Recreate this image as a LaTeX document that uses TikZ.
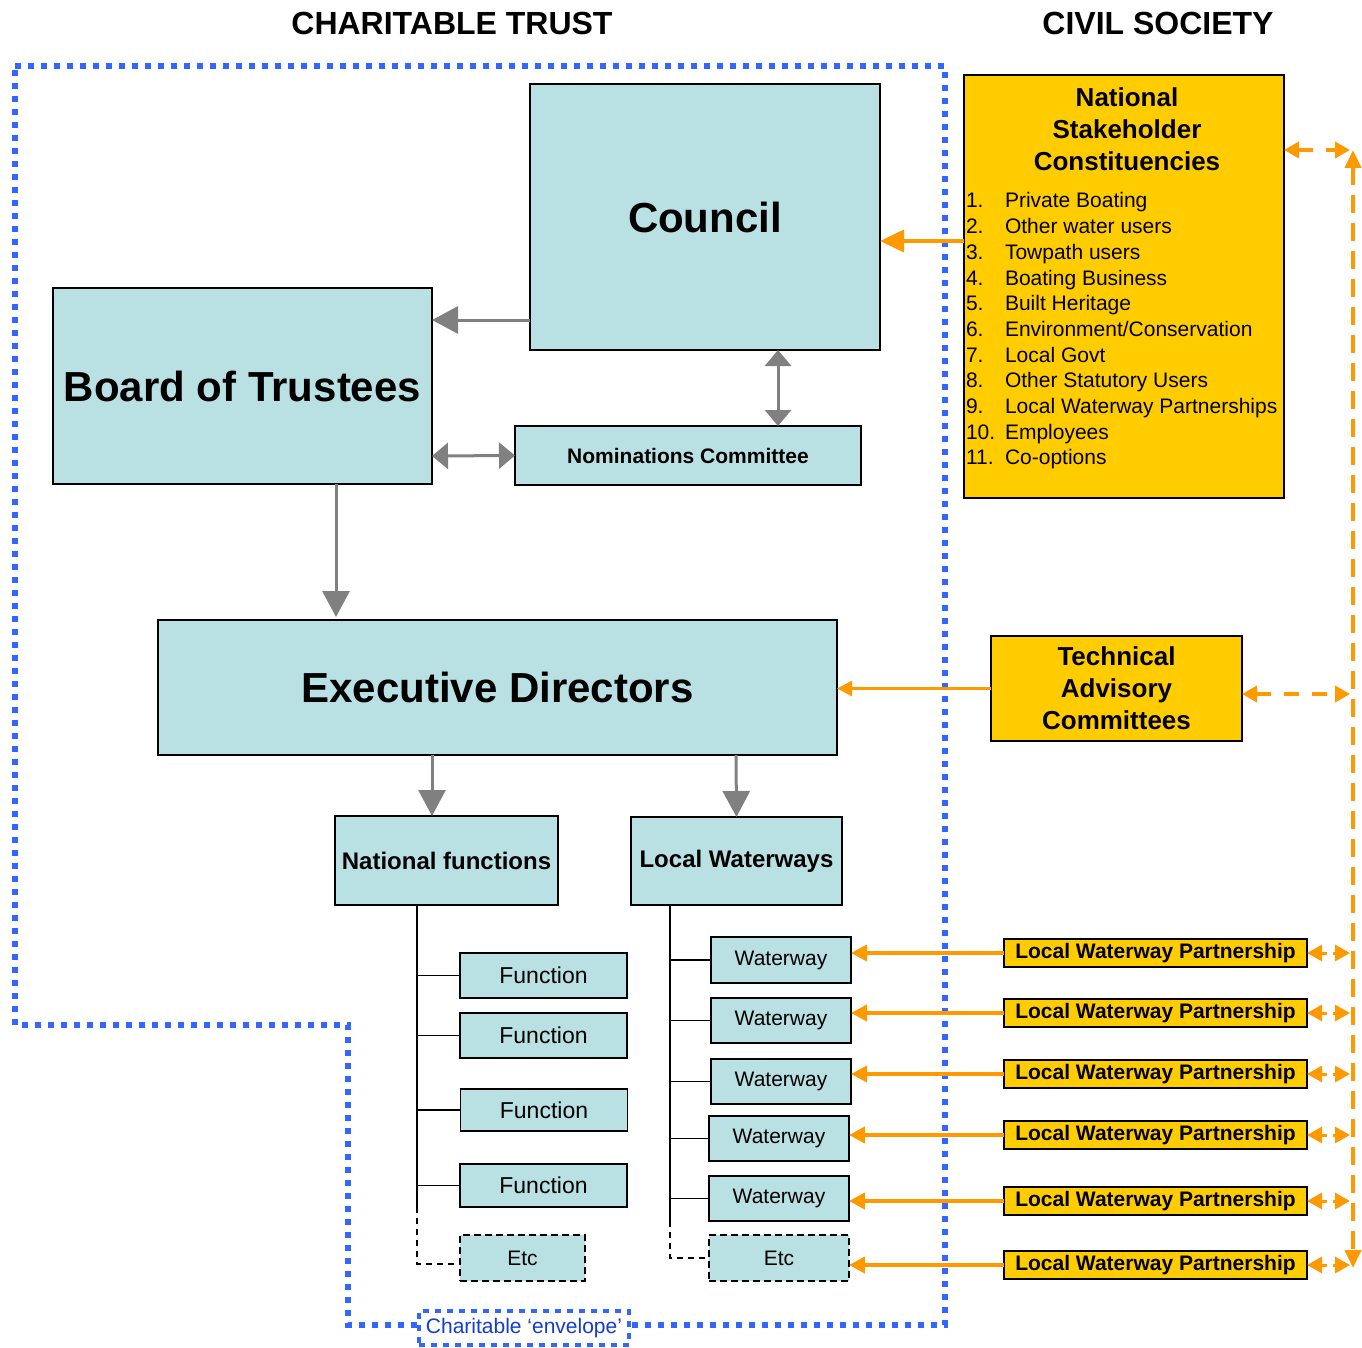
\documentclass[tikz,border=0pt]{standalone}
\usepackage{fontspec}
\setmainfont{Liberation Sans}
\usetikzlibrary{arrows.meta}

\definecolor{boxblue}{RGB}{185,224,227}
\definecolor{civgold}{RGB}{255,204,0}
\definecolor{linkorange}{RGB}{255,153,0}
\definecolor{envblue}{RGB}{51,102,255}
\definecolor{envtext}{RGB}{20,60,210}
\newcommand{\fsz}[2]{\fontsize{#1}{#2}\selectfont}

\begin{document}
\begin{tikzpicture}
[x=1pt,y=-1pt,
 every node/.style={inner sep=0pt,outer sep=0pt},
 org/.style={rectangle,draw=black,line width=1.5pt,fill=boxblue},
 big/.style={org,font=\fsz{42}{50}\bfseries},
 mid/.style={org,font=\fsz{24}{29}\bfseries},
 leaf/.style={org,font=\fsz{23}{28}},
 wwbox/.style={org,minimum width=140pt,font=\fsz{21}{25}},
 etcbox/.style={org,dash pattern=on 7pt off 4pt,minimum height=46pt,font=\fsz{21}{25}},
 civ/.style={rectangle,draw=black,line width=1.5pt,fill=civgold},
 lwpbox/.style={civ,minimum width=303pt,minimum height=28pt,font=\fsz{21}{25}\bfseries},
 tree/.style={draw=black,line width=1.5pt},
 garrow/.style={draw=gray,line width=3pt,-{Triangle[length=26pt,width=27pt]}},
 gboth/.style={draw=gray,line width=3pt,{Triangle[length=16pt,width=26pt]}-{Triangle[length=16pt,width=26pt]}},
 oarrow/.style={draw=linkorange,line width=4pt,-{Triangle[length=16pt,width=16pt]}},
 olink/.style={draw=linkorange,line width=4.5pt,dash pattern=on 15pt off 13pt,shorten >=3pt,
   {Triangle[length=15pt,width=16pt]}-{Triangle[length=15pt,width=16pt]}},
 obus/.style={draw=linkorange,line width=4pt,dash pattern=on 18pt off 10pt},
 env/.style={draw=envblue,line width=6pt,dash pattern=on 6pt off 7pt}]
\useasboundingbox (0,0) rectangle (1362,1348);

% headings
\node[font=\fsz{32}{38}\bfseries] (trust)   at (452,23)  {CHARITABLE TRUST};
\node[font=\fsz{32}{38}\bfseries] (society) at (1158,23) {CIVIL SOCIETY};

% charitable envelope
\draw[env] (15,66) -- (945,66) -- (945,1325) -- (348,1325) -- (348,1025) -- (15,1025) -- cycle;
\node[draw=envblue,line width=4.5pt,dash pattern=on 6pt off 6pt,fill=white,text=envtext,
      minimum width=210pt,minimum height=34pt,font=\fsz{21}{25}] (envlabel) at (524,1328) {Charitable ‘envelope’};

% trust bodies
\node[big,minimum width=350pt,minimum height=266pt] (council) at (705,217)   {Council};
\node[big,minimum width=379pt,minimum height=196pt] (board)   at (242.5,386) {Board of Trustees};
\node[org,minimum width=346pt,minimum height=59pt,font=\fsz{21}{25}\bfseries] (nomcom) at (688,455.5) {Nominations Committee};
\node[big,minimum width=679pt,minimum height=135pt] (exec)    at (497.5,687.5) {Executive Directors};
\node[mid,minimum width=223pt,minimum height=89pt]  (natfn)   at (446.5,860.5) {National functions};
\node[mid,minimum width=211pt,minimum height=88pt]  (localww) at (736.5,861)   {Local Waterways};

\node[leaf,minimum width=167pt,minimum height=45pt] (fn1) at (543.5,975.5)  {Function};
\node[leaf,minimum width=167pt,minimum height=45pt] (fn2) at (543.5,1035.5) {Function};
\node[leaf,minimum width=167pt,minimum height=42pt] (fn3) at (544,1110)     {Function};
\node[leaf,minimum width=167pt,minimum height=43pt] (fn4) at (543.5,1185.5) {Function};
\node[etcbox,minimum width=125pt] (fnetc) at (522.5,1258) {Etc};

\node[wwbox,minimum height=46pt] (ww1) at (781,960)    {Waterway};
\node[wwbox,minimum height=45pt] (ww2) at (781,1020.5) {Waterway};
\node[wwbox,minimum height=45pt] (ww3) at (781,1081.5) {Waterway};
\node[wwbox,minimum height=45pt] (ww4) at (779,1138.5) {Waterway};
\node[wwbox,minimum height=45pt] (ww5) at (779,1198.5) {Waterway};
\node[etcbox,minimum width=140pt] (wwetc) at (779,1258) {Etc};

% civil society
\node[civ,minimum width=320pt,minimum height=423pt] (nsc) at (1124,286.5) {};
\node[align=center,font=\fsz{26}{32}\bfseries] (nsctitle) at (1127,129) {National\\Stakeholder\\Constituencies};
\node[anchor=north west,font=\fsz{21}{25.7}] (nsclist) at (966,190)
  {\begin{tabular}{@{}p{39pt}@{}l@{}}
   1. & Private Boating\\
   2. & Other water users\\
   3. & Towpath users\\
   4. & Boating Business\\
   5. & Built Heritage\\
   6. & Environment/Conservation\\
   7. & Local Govt\\
   8. & Other Statutory Users\\
   9. & Local Waterway Partnerships\\
   10. & Employees\\
   11. & Co-options
   \end{tabular}};
\node[civ,align=center,minimum width=251pt,minimum height=105pt,font=\fsz{26}{32}\bfseries] (tac) at (1116.5,688.5)
  {Technical\\Advisory\\Committees};

\node[lwpbox] (lwp1) at (1155.5,953)  {Local Waterway Partnership};
\node[lwpbox] (lwp2) at (1155.5,1013) {Local Waterway Partnership};
\node[lwpbox] (lwp3) at (1155.5,1074) {Local Waterway Partnership};
\node[lwpbox] (lwp4) at (1155.5,1135) {Local Waterway Partnership};
\node[lwpbox] (lwp5) at (1155.5,1201) {Local Waterway Partnership};
\node[lwpbox] (lwp6) at (1155.5,1265) {Local Waterway Partnership};

% trees under the two divisions
\coordinate (nfspine) at ([xshift=-29.5pt]natfn.south);
\coordinate (lwspine) at ([xshift=-66.5pt]localww.south);
\draw[tree] (nfspine) -- (nfspine |- fn4.south);
\foreach \f in {fn1,fn2,fn3,fn4}
  \draw[tree] (nfspine |- \f.west) -- (\f.west);
\draw[tree,dash pattern=on 6pt off 5pt] (nfspine |- fn4.south) -- ([yshift=-6pt]nfspine |- fnetc.west) -- ([yshift=-6pt]fnetc.west);
\draw[tree] (lwspine) -- (lwspine |- ww5.south);
\foreach \w in {ww1,ww2,ww3,ww4,ww5}
  \draw[tree] (lwspine |- \w.west) -- (\w.west);
\draw[tree,dash pattern=on 6pt off 5pt] (lwspine |- ww5.south) -- (lwspine |- wwetc.west) -- (wwetc.west);

% reporting lines
\draw[garrow] ([yshift=30pt]council.south west) -- ([yshift=66pt]board.east);
\draw[gboth]  ([xshift=73pt]council.south) -- ([xshift=90pt]nomcom.north);
\draw[gboth]  ([yshift=-70pt]board.east) -- (nomcom.west);
\draw[garrow] ([xshift=93.5pt]board.south) -- ([xshift=-161.5pt,yshift=3pt]exec.north);
\draw[garrow] ([xshift=-65.5pt]exec.south) -- ([xshift=-14.5pt]natfn.north);
\draw[garrow] ([xshift=238.5pt]exec.south) -- (localww.north);

% civil society links
\draw[draw=linkorange,line width=4pt,-{Triangle[length=24pt,width=22pt]}]
  ([yshift=45.5pt]nsc.west) -- ([yshift=-24pt]council.east);
\draw[draw=linkorange,line width=3pt,-{Triangle[length=15pt,width=15pt]}] (tac.west) -- (tac.west -| exec.east);
\foreach \w/\p in {ww1/lwp1,ww2/lwp2,ww3/lwp3,ww4/lwp4,ww5/lwp5,wwetc/lwp6}
  \draw[oarrow] (\p.west) -- (\w.east |- \p.west);

\coordinate (busT) at (1353,150);
\coordinate (busB) at (1353,1268);
\draw[obus,{Triangle[length=18pt,width=16pt]}-{Triangle[length=18pt,width=16pt]}] (busT) -- (busB);
\draw[olink] (nsc.east |- busT) -- (busT);
\draw[olink,line width=4pt] ([yshift=-5.5pt]tac.east) -- ([yshift=-5.5pt]tac.east -| busT);
\foreach \p in {lwp1,lwp2,lwp3,lwp4,lwp5,lwp6}
  \draw[olink,line width=3pt,dash pattern=on 6pt off 6pt] (\p.east) -- (\p.east -| busT);
\end{tikzpicture}
\end{document}
